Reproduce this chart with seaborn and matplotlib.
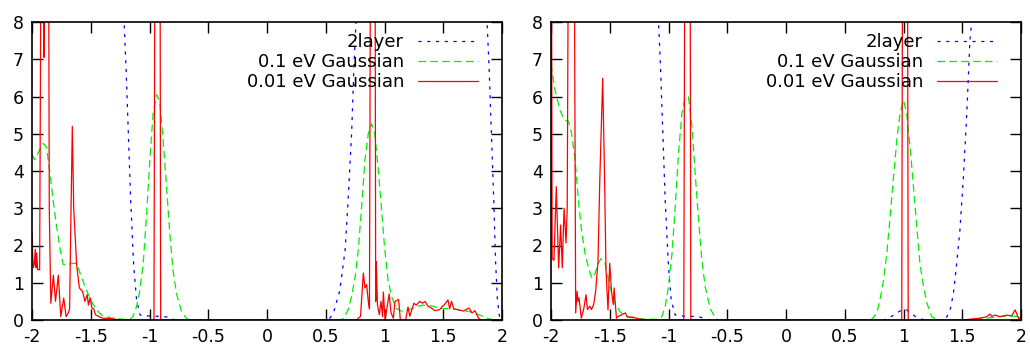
import numpy as np
import pandas as pd
import matplotlib
matplotlib.use("Agg")
import matplotlib.pyplot as plt
import seaborn as sns

# ---------------- data ----------------
x_ticks = [-2, -1.5, -1, -0.5, 0, 0.5, 1, 1.5, 2]
x_tick_labels = ["-2", "-1.5", "-1", "-0.5", "0", "0.5", "1", "1.5", "2"]
y_ticks = [0, 1, 2, 3, 4, 5, 6, 7, 8]
y_tick_labels = ["0", "1", "2", "3", "4", "5", "6", "7", "8"]
series_names = ["2layer", "0.1 eV Gaussian", "0.01 eV Gaussian"]

# ---- left panel ----
L_blue_x = [-2.0, -1.6, -1.25, -1.216, -1.2, -1.18, -1.16, -1.134, -1.11, -1.08, -1.05,
            -1.0, -0.95, -0.9, -0.85, -0.81, -0.79, -0.5, 0.0, 0.5, 0.53, 0.565, 0.62,
            0.665, 0.69, 0.72, 0.74, 0.757, 0.8, 1.3, 1.85, 1.87, 1.89, 1.91, 1.93,
            1.945, 1.96, 1.975, 1.99, 2.0]
L_blue_y = [30, 25, 12, 8.0, 6.8, 5.0, 3.2, 1.43, 0.54, 0.13, 0.11,
            0.11, 0.1, 0.1, 0.08, 0.05, 0.0, 0.0, 0.0, 0.0, 0.03, 0.18, 0.8,
            1.88, 3.2, 5.0, 6.8, 8.0, 12, 20, 10, 8.2, 6.8, 5.0, 3.2,
            1.6, 0.6, 0.15, 0.0, 0.0]

L_green_x = [-2.0, -1.977, -1.95, -1.906, -1.878, -1.85, -1.82, -1.79, -1.764, -1.736,
             -1.707, -1.665, -1.62, -1.58, -1.537, -1.494, -1.45, -1.395, -1.31, -1.225,
             -1.17, -1.14, -1.11, -1.082, -1.054, -1.026, -0.997, -0.969, -0.94, -0.912,
             -0.884, -0.855, -0.827, -0.8, -0.77, -0.727, -0.685, -0.66, 0.0, 0.62, 0.65,
             0.69, 0.72, 0.75, 0.777, 0.805, 0.834, 0.862, 0.89, 0.917, 0.945, 0.973,
             1.0, 1.03, 1.06, 1.1, 1.16, 1.217, 1.27, 1.33, 1.4, 1.47, 1.557, 1.64,
             1.73, 1.81, 1.88, 1.93, 2.0]
L_green_y = [4.45, 4.3, 4.47, 4.74, 4.65, 4.02, 3.2, 2.5, 1.97, 1.5,
             1.47, 1.52, 1.52, 1.16, 0.8, 0.5, 0.27, 0.1, 0.05, 0.02,
             0.0, 0.1, 0.36, 0.8, 1.5, 2.77, 4.3, 5.55, 6.05, 5.85,
             4.83, 3.57, 2.32, 1.34, 0.7, 0.22, 0.04, 0.0, 0.0, 0.0, 0.04,
             0.27, 0.63, 1.16, 1.88, 3.04, 4.3, 5.0, 5.27, 5.0, 4.1, 3.04,
             1.97, 1.07, 0.63, 0.31, 0.22, 0.29, 0.36, 0.4, 0.38, 0.31, 0.31, 0.27,
             0.22, 0.13, 0.04, 0.0, 0.0]

L_red_x = [-2.0, -1.99, -1.98, -1.972, -1.965, -1.96, -1.952, -1.935, -1.925, -1.915,
           -1.905, -1.898, -1.89, -1.875, -1.86, -1.853, -1.84, -1.818, -1.80, -1.776,
           -1.755, -1.73, -1.71, -1.69, -1.68, -1.67, -1.657, -1.645, -1.62, -1.597,
           -1.57, -1.55, -1.53, -1.52, -1.505, -1.49, -1.475, -1.46, -1.43, -1.40,
           -1.31, -1.26, -1.0, -0.962, -0.953, -0.932, -0.911, -0.905, -0.8, 0.0,
           0.765, 0.777, 0.796, 0.82, 0.834, 0.848, 0.862, 0.872, 0.882, 0.9, 0.919, 0.925,
           0.93, 0.94, 0.956, 0.97, 0.984, 0.99, 1.005, 1.04, 1.055, 1.075, 1.09,
           1.12, 1.135, 1.18, 1.2, 1.215, 1.25, 1.27, 1.3, 1.325, 1.345, 1.37, 1.40,
           1.43, 1.47, 1.49, 1.51, 1.54, 1.555, 1.57, 1.59, 1.62, 1.67, 1.72, 1.745,
           1.77, 1.80, 1.82, 2.0]
L_red_y = [2.35, 1.4, 1.5, 1.9, 1.4, 1.8, 1.35, 1.35, 9.0, 15.0,
           9.0, 7.05, 10.0, 20.0, 12.0, 3.0, 0.45, 1.2, 0.5, 1.2,
           0.09, 0.59, 0.09, 0.2, 0.3, 2.5, 5.2, 3.0, 1.48, 0.86,
           0.77, 0.5, 0.68, 0.4, 0.6, 0.32, 0.3, 0.14, 0.09, 0.05,
           0.03, 0.0, 0.0, 0.0, 12.0, 30.0, 12.0, 0.0, 0.0, 0.0,
           0.0, 0.05, 0.1, 1.26, 0.86, 0.95, 0.5, 0.3, 12.0, 30.0, 12.0, 0.5,
           1.57, 0.41, 0.14, 0.5, 0.09, 0.75, 0.0, 0.7, 0.2, 0.05, 0.5,
           0.55, 0.0, 0.0, 0.35, 0.1, 0.45, 0.4, 0.5, 0.45, 0.5, 0.37, 0.32,
           0.25, 0.28, 0.36, 0.41, 0.54, 0.3, 0.5, 0.3, 0.28, 0.24, 0.32, 0.19,
           0.25, 0.05, 0.0, 0.0]

# ---- right panel ----
R_blue_x = [-2.0, -1.5, -1.1, -1.085, -1.068, -1.048, -1.028, -1.0, -0.977, -0.943,
            -0.9, -0.83, -0.744, -0.673, -0.64, 0.0, 0.83, 0.88, 0.915, 0.95, 0.985,
            1.027, 1.06, 1.085, 1.12, 1.155, 1.2, 1.34, 1.37, 1.4, 1.425, 1.45,
            1.48, 1.51, 1.54, 1.565, 1.58, 1.62, 2.0]
R_blue_y = [30, 25, 10, 8.0, 6.8, 5.0, 3.2, 1.43, 0.54, 0.13,
            0.11, 0.1, 0.09, 0.02, 0.0, 0.0, 0.0, 0.06, 0.13, 0.2, 0.27,
            0.27, 0.2, 0.13, 0.06, 0.02, 0.0, 0.0, 0.09, 0.31, 0.72, 1.43,
            2.41, 3.84, 5.63, 7.5, 8.0, 12, 30]

R_green_x = [-2.0, -1.966, -1.923, -1.886, -1.852, -1.824, -1.795, -1.767, -1.74, -1.71,
             -1.68, -1.653, -1.625, -1.597, -1.574, -1.54, -1.51, -1.483, -1.455, -1.412,
             -1.355, -1.284, -1.17, -1.085, -1.057, -1.028, -1.0, -0.97, -0.943, -0.915,
             -0.886, -0.858, -0.83, -0.8, -0.773, -0.744, -0.716, -0.688, -0.645, -0.6,
             -0.57, 0.0, 0.7, 0.73, 0.773, 0.8, 0.83, 0.858, 0.886, 0.915, 0.943, 0.97,
             1.0, 1.027, 1.056, 1.085, 1.113, 1.14, 1.17, 1.2, 1.24, 1.28, 1.32, 1.6,
             1.7, 1.85, 1.95, 2.0]
R_green_y = [6.88, 6.17, 5.63, 5.36, 5.34, 5.0, 4.29, 3.22, 2.41, 1.79,
             1.39, 1.12, 1.25, 1.52, 1.65, 1.52, 1.07, 0.72, 0.45, 0.22,
             0.09, 0.04, 0.02, 0.02, 0.09, 0.36, 0.9, 1.79, 3.04, 4.47,
             5.54, 5.99, 5.99, 5.18, 3.93, 2.68, 1.61, 0.9, 0.31, 0.04,
             0.0, 0.0, 0.0, 0.02, 0.18, 0.54, 1.07, 1.79, 2.77, 3.84, 4.83, 5.54,
             5.9, 5.54, 4.65, 3.57, 2.5, 1.52, 0.9, 0.45, 0.09, 0.02, 0.0, 0.0,
             0.05, 0.1, 0.1, 0.1]

R_red_x = [-2.0, -1.995, -1.99, -1.975, -1.955, -1.935, -1.918, -1.904, -1.889, -1.872,
           -1.862, -1.85, -1.83, -1.804, -1.79, -1.778, -1.77, -1.762, -1.742, -1.72,
           -1.702, -1.69, -1.67, -1.655, -1.636, -1.62, -1.60, -1.585, -1.56, -1.543,
           -1.532, -1.515, -1.50, -1.485, -1.47, -1.463, -1.443, -1.43, -1.367, -1.35,
           -1.31, -1.25, -1.2, -0.9, -0.87, -0.86, -0.84, -0.817, -0.81, 0.0,
           0.985, 0.993, 1.013, 1.033, 1.04, 1.5, 1.565, 1.65, 1.70, 1.72, 1.735,
           1.75, 1.78, 1.82, 1.88, 1.92, 1.95, 1.98, 2.0]
R_red_y = [12.0, 9.0, 1.65, 1.6, 3.58, 1.4, 2.55, 1.4, 3.0, 2.07,
           3.0, 12.0, 25.0, 12.0, 0.19, 0.77, 0.5, 0.6, 0.05, 0.32,
           0.68, 0.28, 0.37, 0.28, 0.43, 0.77, 1.57, 3.73, 6.49, 3.6,
           1.34, 0.27, 1.52, 0.77, 0.41, 0.86, 0.05, 0.09, 0.19, 0.08,
           0.08, 0.03, 0.0, 0.0, 0.0, 12.0, 30.0, 12.0, 0.0, 0.0,
           0.0, 12.0, 30.0, 12.0, 0.0, 0.0, 0.02, 0.05, 0.08, 0.12, 0.16,
           0.1, 0.13, 0.09, 0.13, 0.11, 0.27, 0.04, 0.09]

panels = [
    (L_blue_x, L_blue_y, L_green_x, L_green_y, L_red_x, L_red_y),
    (R_blue_x, R_blue_y, R_green_x, R_green_y, R_red_x, R_red_y),
]

# ---------------- styling ----------------
sns.set_theme(style="white")
plt.rcParams["font.family"] = ["DejaVu Sans"]
plt.rcParams["text.color"] = "black"

colors = ["#0000ff", "#00ee00", "#ff0000"]
dashes = [(2.5, 4.5), (6, 3.5), None]

fig = plt.figure(figsize=(10.3, 3.47), dpi=100)
W, H = 1030.0, 347.0
axes = [fig.add_axes([32 / W, 27 / H, 470 / W, 298 / H]),
        fig.add_axes([551 / W, 27 / H, 470 / W, 298 / H])]

for ax, (bx, by, gx, gy, rx, ry) in zip(axes, panels):
    data = [(bx, by), (gx, gy), (rx, ry)]
    for (xs, ys), name, col, dsh in zip(data, series_names, colors, dashes):
        df = pd.DataFrame({"E": xs, "DOS": ys})
        line_ax = sns.lineplot(data=df, x="E", y="DOS", ax=ax, color=col,
                               linewidth=0.9, estimator=None, label=name,
                               legend=False)
        if dsh is not None:
            line_ax.lines[-1].set_dashes(dsh)
    ax.set_xlim(-2, 2)
    ax.set_ylim(0, 8)
    ax.set_xlabel("")
    ax.set_ylabel("")
    ax.set_xticks(x_ticks)
    ax.set_xticklabels(x_tick_labels)
    ax.set_yticks(y_ticks)
    ax.set_yticklabels(y_tick_labels)
    ax.tick_params(axis="both", which="major", direction="in", length=8, width=1,
                   color="black", top=True, right=True, bottom=True, left=True,
                   labelsize=12.5, labelcolor="black", pad=6)
    for sp in ax.spines.values():
        sp.set_visible(True)
        sp.set_color("black")
        sp.set_linewidth(1.2)
    handles = ax.lines[:3]
    leg = ax.legend(handles, series_names, loc="upper right",
                    bbox_to_anchor=(0.949, 0.962),
                    markerfirst=False, frameon=False, fontsize=13, borderpad=0,
                    borderaxespad=0, handlelength=3.3, handletextpad=0.8,
                    labelspacing=0.1)
    for t in leg.get_texts():
        t.set_color("black")

fig.savefig("out.png", dpi=100)
